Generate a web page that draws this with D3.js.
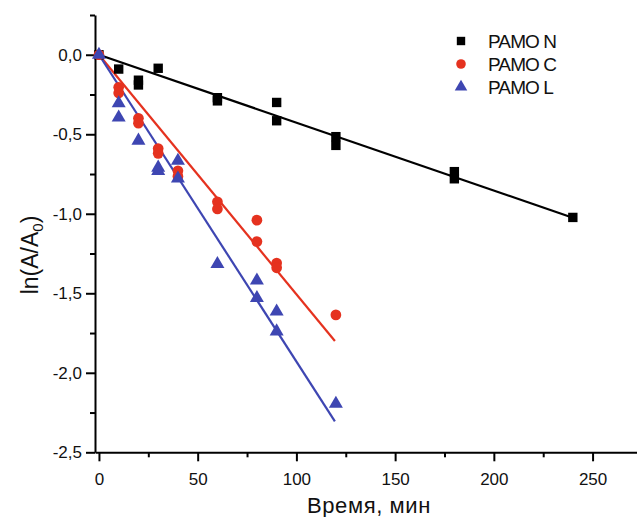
<!DOCTYPE html>
<html lang="ru">
<head>
  <meta charset="UTF-8">
  <title></title>
  <script src="https://d3js.org/d3.v7.min.js"></script>
  <style>
    body { margin: 0; background: #fff; }
    text { font-family: "Liberation Sans", Arial, sans-serif; }
  </style>
</head>
<body>
  <svg width="637" height="517"></svg>
  <script>
    // data: [time, ln(A/A0)]
    const pamoN = [[0, 0.0], [10, -0.09], [20, -0.16], [20, -0.19], [30, -0.085], [60, -0.27], [60, -0.29],
      [90, -0.30], [90, -0.415], [120, -0.515], [120, -0.57], [180, -0.735], [180, -0.78], [240, -1.023]];
    const pamoC = [[0, 0.0], [10, -0.205], [10, -0.24], [20, -0.40], [20, -0.43], [30, -0.59], [30, -0.62],
      [40, -0.73], [40, -0.765], [60, -0.925], [60, -0.97], [80, -1.04], [80, -1.175],
      [90, -1.31], [90, -1.34], [120, -1.636]];
    const pamoL = [[0, 0.0], [10, -0.305], [10, -0.395], [20, -0.54], [30, -0.71], [30, -0.73],
      [40, -0.667], [40, -0.778], [60, -1.316], [80, -1.42], [80, -1.53], [90, -1.615], [90, -1.74], [120, -2.195]];

    // fitted lines: [t start, value], [t end, value]
    const fitN = [[0, 0.0], [240, -1.025]];
    const fitC = [[0, 0.0], [119.5, -1.80]];
    const fitL = [[0, 0.0], [119.5, -2.305]];

    const names = ["PAMO N", "PAMO C", "PAMO L"];
    const colors = ["#000000", "#e5321f", "#3e46b2"];
    const symbols = [d3.symbolSquare, d3.symbolCircle, d3.symbolTriangle];
    const symSizes = [88, 90, 85];

    const xMajor = [0, 50, 100, 150, 200, 250];
    const xMinor = [25, 75, 125, 175, 225];
    const yMajor = [0, -0.5, -1.0, -1.5, -2.0, -2.5];
    const yMinor = [0.25, -0.25, -0.75, -1.25, -1.75, -2.25];

    const svg = d3.select("svg");
    const x = d3.scaleLinear().domain([-2, 272.5]).range([95, 637]);
    const y = d3.scaleLinear().domain([-2.5, 0.25]).range([452.3, 15]);

    const loc = d3.formatLocale({decimal: ",", thousands: " ", grouping: [3], currency: ["", ""], minus: "-"});
    const fy = loc.format(".1f");

    // axes
    svg.append("g").attr("transform", `translate(0,${y(-2.5)})`)
      .call(d3.axisBottom(x).tickValues(xMajor).tickSize(9).tickSizeOuter(0).tickPadding(12).tickFormat(d3.format("d")));
    svg.append("g").attr("transform", `translate(0,${y(-2.5)})`)
      .call(d3.axisBottom(x).tickValues(xMinor).tickSize(5).tickFormat(""))
      .select(".domain").remove();
    svg.append("g").attr("transform", `translate(${x(-2)},0)`)
      .call(d3.axisLeft(y).tickValues(yMajor).tickSize(9).tickSizeOuter(0).tickPadding(4).tickFormat(fy));
    svg.append("g").attr("transform", `translate(${x(-2)},0)`)
      .call(d3.axisLeft(y).tickValues(yMinor).tickSize(5).tickFormat(""))
      .select(".domain").remove();

    svg.selectAll(".domain").attr("stroke-width", 2);
    svg.selectAll(".tick line").attr("stroke-width", 2);
    svg.selectAll(".tick text").attr("font-size", 17).attr("fill", "#111")
      .attr("font-family", "Liberation Sans, Arial, sans-serif");

    // fit lines
    const line = d3.line().x(d => x(d[0])).y(d => y(d[1]));
    [fitN, fitC, fitL].forEach((f, i) => {
      svg.append("path").datum(f)
        .attr("fill", "none").attr("stroke", colors[i]).attr("stroke-width", 2.2)
        .attr("d", line);
    });

    // points
    [pamoN, pamoC, pamoL].forEach((s, i) => {
      const sym = d3.symbol().type(symbols[i]).size(symSizes[i]);
      svg.append("g").selectAll("path").data(s).join("path")
        .attr("transform", d => `translate(${x(d[0])},${y(d[1])})`)
        .attr("d", sym)
        .attr("fill", colors[i]);
    });

    // legend
    const leg = svg.append("g").attr("transform", "translate(461,41)");
    names.forEach((n, i) => {
      leg.append("path").attr("transform", `translate(0,${i * 23})`)
        .attr("d", d3.symbol().type(symbols[i]).size(symSizes[i] * 0.8)())
        .attr("fill", colors[i]);
      leg.append("text").attr("x", 27).attr("y", i * 23).attr("dy", "0.36em")
        .attr("font-size", 19).attr("letter-spacing", -0.9).attr("fill", "#111")
        .text(n);
    });

    // axis titles
    svg.append("text").attr("x", 369).attr("y", 513).attr("text-anchor", "middle")
      .attr("font-size", 22).attr("letter-spacing", 0.6).attr("fill", "#111")
      .text("Время, мин");

    const yt = svg.append("text").attr("transform", "translate(38,255) rotate(-90)")
      .attr("text-anchor", "middle").attr("font-size", 23).attr("fill", "#111");
    yt.append("tspan").text("ln(A/A");
    yt.append("tspan").attr("font-size", 15).attr("dy", 5).text("0");
    yt.append("tspan").attr("dy", -5).text(")");
  </script>
</body>
</html>
